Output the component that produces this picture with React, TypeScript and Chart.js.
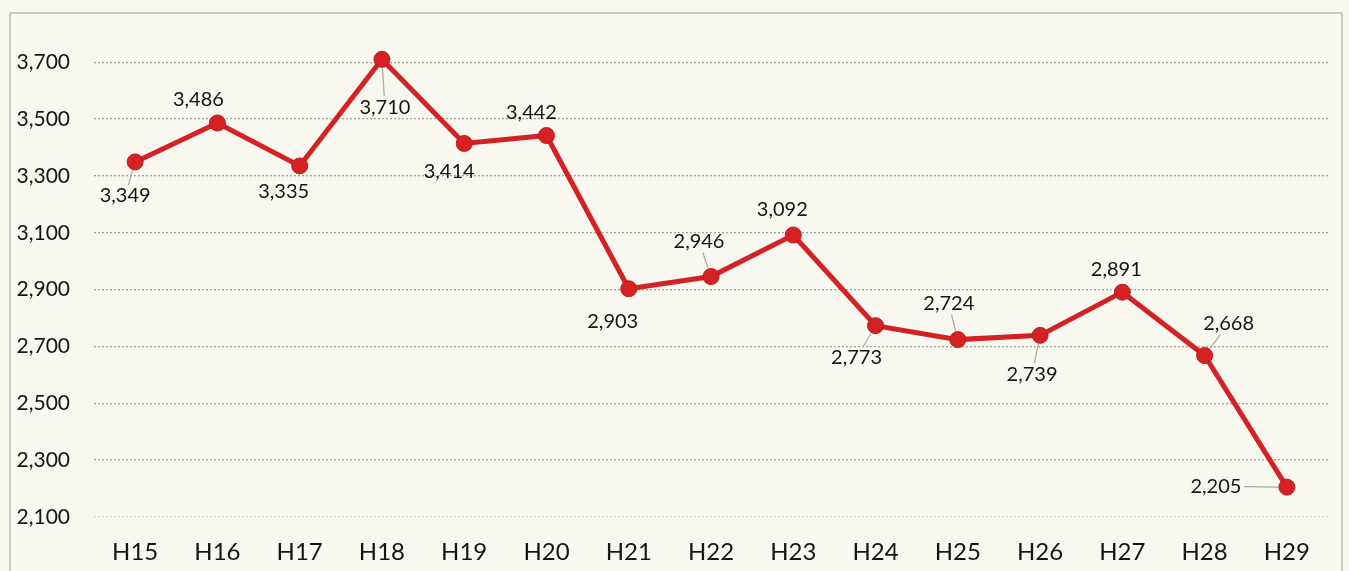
import React, { useEffect, useRef } from "react";
import { Chart, registerables } from "chart.js";

Chart.register(...registerables);

const categories = ["H15", "H16", "H17", "H18", "H19", "H20", "H21", "H22", "H23", "H24", "H25", "H26", "H27", "H28", "H29"];
const values = [3349, 3486, 3335, 3710, 3414, 3442, 2903, 2946, 3092, 2773, 2724, 2739, 2891, 2668, 2205];
const yTickValues = [2100, 2300, 2500, 2700, 2900, 3100, 3300, 3500, 3700];

// label placement (style): offset of label centre from point, and whether a leader line is drawn
const labelOffsets: [number, number][] = [
  [-10, 34], [-19, -23], [-16, 26], [3, 48], [-15, 28], [-15, -23], [-16, 33], [-12, -35],
  [-11, -25], [-19, 32], [-9, -36], [-8, 39], [-6, -23], [24, -32], [-71, -1],
];
const leaders = [true, false, false, true, false, false, false, true, false, true, true, true, false, true, true];

const FONT = "Lato, 'Open Sans', sans-serif";
const RED = "#d42224";

const framePlugin = {
  id: "frame",
  beforeDraw(chart: any) {
    const ctx = chart.ctx;
    ctx.save();
    ctx.fillStyle = "#f8f7f0";
    ctx.fillRect(0, 0, chart.width, chart.height);
    ctx.strokeStyle = "#c9c9c4";
    ctx.lineWidth = 2;
    ctx.beginPath();
    ctx.moveTo(10, 600);
    ctx.lineTo(10, 13);
    ctx.lineTo(1342, 13);
    ctx.lineTo(1342, 600);
    ctx.stroke();
    ctx.restore();
  },
};

const labelPlugin = {
  id: "valueLabels",
  afterDatasetsDraw(chart: any) {
    const ctx = chart.ctx;
    const meta = chart.getDatasetMeta(0);
    ctx.save();
    ctx.font = `20px ${FONT}`;
    ctx.textAlign = "center";
    ctx.textBaseline = "middle";
    meta.data.forEach((pt: any, i: number) => {
      const v = values[i];
      const text = v.toLocaleString("en-US");
      const [dx, dy] = labelOffsets[i];
      const lx = pt.x + dx;
      const ly = pt.y + dy;
      if (leaders[i]) {
        const w = ctx.measureText(text).width / 2 + 3;
        const h = 11;
        const vx = pt.x - lx;
        const vy = pt.y - ly;
        const dist = Math.hypot(vx, vy);
        const tBox = Math.min(Math.abs(w / (vx || 1e-6)), Math.abs(h / (vy || 1e-6)));
        const sx = lx + vx * tBox;
        const sy = ly + vy * tBox;
        const ex = pt.x - (vx / dist) * 9;
        const ey = pt.y - (vy / dist) * 9;
        if (Math.hypot(ex - sx, ey - sy) > 3 && tBox < 1) {
          ctx.strokeStyle = "#a9a9a4";
          ctx.lineWidth = 1.2;
          ctx.beginPath();
          ctx.moveTo(sx, sy);
          ctx.lineTo(ex, ey);
          ctx.stroke();
        }
      }
      ctx.fillStyle = "#151515";
      ctx.fillText(text, lx, ly);
    });
    ctx.restore();
  },
};

export default function App() {
  const ref = useRef<HTMLCanvasElement>(null);
  useEffect(() => {
    document.body.style.margin = "0";
    document.body.style.background = "#f8f7f0";
    const chart = new Chart(ref.current!, {
      type: "line",
      data: {
        labels: categories,
        datasets: [
          {
            data: values,
            borderColor: RED,
            backgroundColor: RED,
            borderWidth: 5,
            pointRadius: 8,
            pointBorderColor: "#c01a1c",
            pointBorderWidth: 1,
            pointBackgroundColor: RED,
            tension: 0,
          },
        ],
      },
      options: {
        animation: false,
        responsive: false,
        layout: { padding: { top: 15, right: 21, left: 0, bottom: 0 } },
        plugins: { legend: { display: false }, tooltip: { enabled: false } },
        scales: {
          x: {
            offset: true,
            grid: { display: false, drawTicks: false },
            border: { display: false },
            ticks: { color: "#151515", font: { family: FONT, size: 24 }, padding: 21 },
            afterFit(scale: any) {
              scale.height = 54;
            },
          },
          y: {
            min: 2100,
            max: 3790,
            afterBuildTicks(scale: any) {
              scale.ticks = yTickValues.map((v) => ({ value: v }));
            },
            afterFit(scale: any) {
              scale.width = 94;
            },
            grid: {
              drawTicks: false,
              color: (c: any) => (c.tick && c.tick.value === 2100 ? "rgba(190,190,185,0.5)" : "#a3a3a0"),
              lineWidth: 1.3,
            },
            border: { display: false, dash: [2, 2] },
            ticks: {
              color: "#151515",
              font: { family: FONT, size: 21 },
              padding: 24,
              callback: (v: any) => Number(v).toLocaleString("en-US"),
            },
          },
        },
      },
      plugins: [framePlugin, labelPlugin],
    });
    return () => chart.destroy();
  }, []);
  return (
    <div style={{ width: 1349, height: 571, background: "#f8f7f0" }}>
      <canvas ref={ref} width={1349} height={571} style={{ display: "block" }} />
    </div>
  );
}
